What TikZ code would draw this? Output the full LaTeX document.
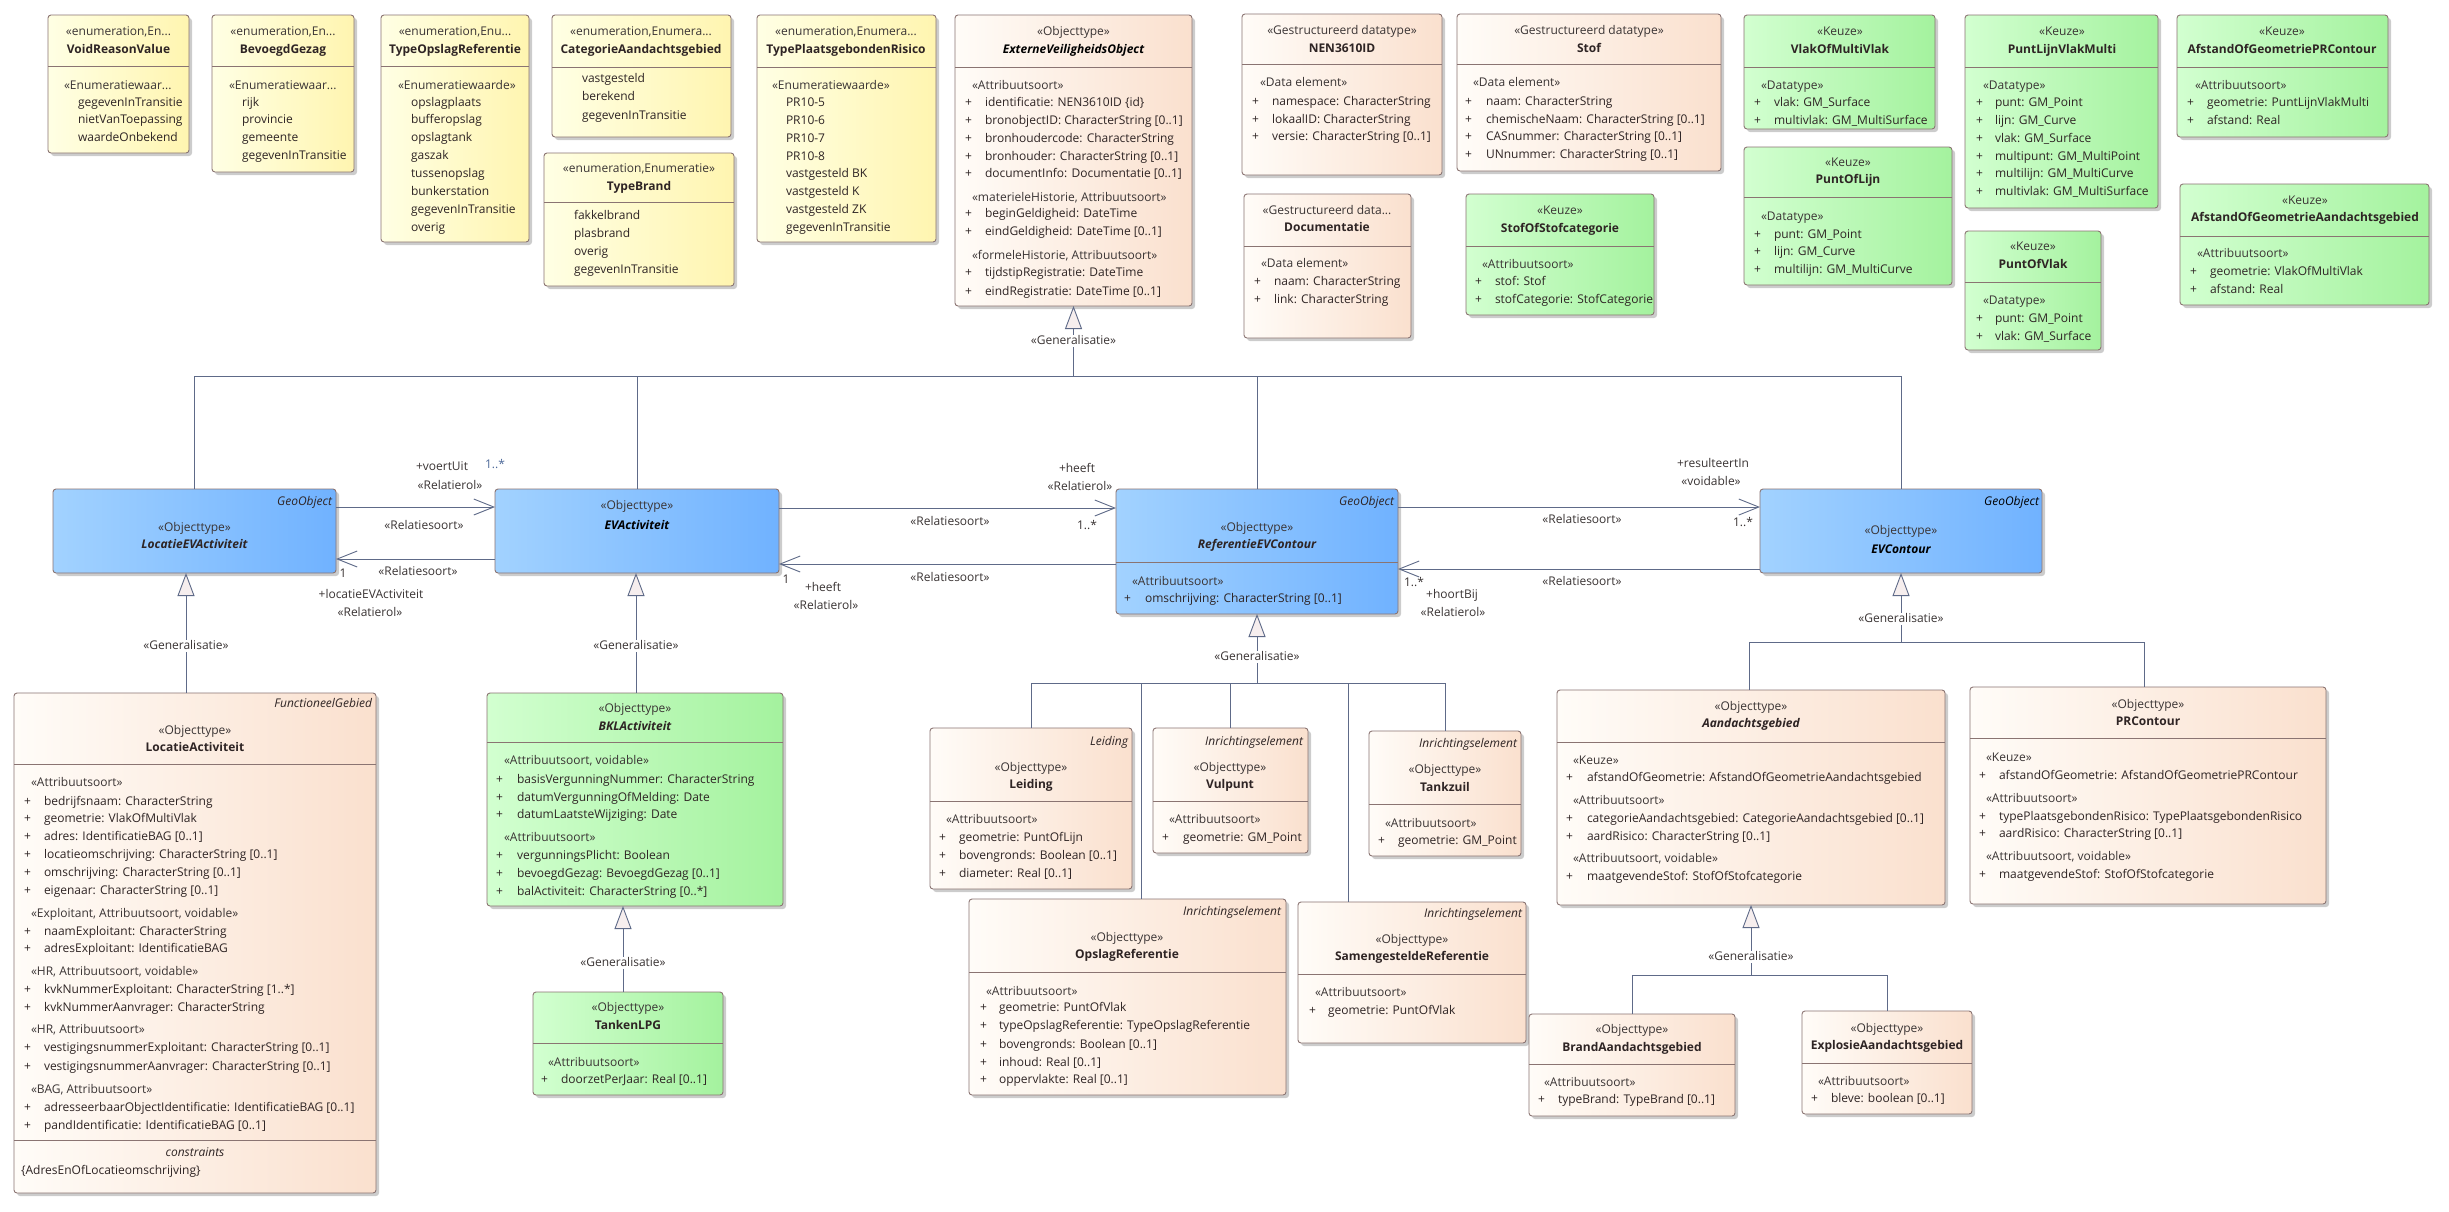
\documentclass[tikz,border=0pt]{standalone}
\usepackage{fontspec}
\setmainfont{Open Sans}
\usetikzlibrary{arrows.meta,shadows,fit}
\definecolor{enL}{HTML}{FFFFE4}
\definecolor{enR}{HTML}{FFF5B0}
\definecolor{obL}{HTML}{FFFCF8}
\definecolor{obR}{HTML}{FAE0CE}
\definecolor{grL}{HTML}{D2FFD0}
\definecolor{grR}{HTML}{A4F29E}
\definecolor{blL}{HTML}{A2D2FF}
\definecolor{blR}{HTML}{70B2FF}
\definecolor{bord}{HTML}{8A7472}
\definecolor{wirec}{HTML}{5E6A88}
\definecolor{txtc}{HTML}{2E2424}
\definecolor{stc}{HTML}{3A3434}
\definecolor{numc}{HTML}{4E6A9A}
\definecolor{genf}{HTML}{F6EEEE}
\newcommand\fs{\fontsize{12}{14}\selectfont}
\newcounter{tn}
\newcommand\Tx[4][lt]{\stepcounter{tn}\node[#1] (t\arabic{tn}) at (#2,#3) {#4};}
\newcommand\Ax[4]{\Tx{#1}{#3}{+}\Tx{#2}{#3}{#4}}
\newcommand\Sx[3]{\Tx[lt,text=stc]{#1}{#2}{#3}}
\newcommand\ubox[7]{\node[box,#7,fit={(#2,#3)(#4,#5)}] (#1) {};\ifx&#6&\else\draw[boxline] (#2,#6) -- (#4,#6);\fi}
\tikzset{
 box/.style={draw=bord, line width=0.9pt, rounded corners=3pt, inner sep=0pt, outer sep=0pt,
   drop shadow={opacity=0.2, shadow xshift=3pt, shadow yshift=-3pt, fill=black}},
 enumf/.style={left color=enL, right color=enR},
 objf/.style={left color=obL, right color=obR},
 grnf/.style={left color=grL, right color=grR},
 bluef/.style={left color=blL, right color=blR},
 boxline/.style={draw=bord, line width=0.9pt},
 txt/.style={inner sep=0pt, outer sep=0pt, text height=9pt, text depth=2.5pt, font=\fs, text=txtc},
 lt/.style={txt, anchor=west},
 ct/.style={txt, anchor=center},
 rt/.style={txt, anchor=east},
 st/.style={ct, text=stc},
 nm/.style={ct, font=\fs\bfseries},
 nmi/.style={ct, font=\fs\bfseries\itshape},
 geo/.style={rt, font=\fs\itshape},
 wire/.style={draw=wirec, line width=0.9pt},
 gen/.style={wire, -{Triangle[length=23pt,width=17pt,fill=genf]}},
 assoc/.style={wire, -{Straight Barb[length=20pt,width=16pt]}},
 glab/.style={ct, fill=white, inner xsep=1.5pt, text=stc},
 alab/.style={ct, text=stc},
}
\begin{document}
\begin{tikzpicture}[x=1pt,y=-1pt]
\useasboundingbox (0,0) rectangle (2449,1211);
\fill[white] (0,0) rectangle (2449,1211);
% ---------- enumerations ----------
\ubox{vrv}{48}{15}{189}{153}{66}{enumf}
\Tx[st]{118.5}{32}{«enumeration,En...}
\Tx[nm]{118.5}{50}{VoidReasonValue}
\Sx{64}{86}{«Enumeratiewaar...}
\Tx{78}{103}{gegevenInTransitie}
\Tx{78}{120}{nietVanToepassing}
\Tx{78}{138}{waardeOnbekend}

\ubox{bg}{212}{15}{354}{172}{66}{enumf}
\Tx[st]{283}{32}{«enumeration,En...}
\Tx[nm]{283}{50}{BevoegdGezag}
\Sx{229}{86}{«Enumeratiewaar...}
\Tx{242}{103}{rijk}
\Tx{242}{120}{provincie}
\Tx{242}{138}{gemeente}
\Tx{242}{156}{gegevenInTransitie}

\ubox{tor}{381}{15}{529}{242}{66}{enumf}
\Tx[st]{455}{32}{«enumeration,Enu...}
\Tx[nm]{455}{50}{TypeOpslagReferentie}
\Sx{398}{86}{«Enumeratiewaarde»}
\Tx{411}{103}{opslagplaats}
\Tx{411}{120}{bufferopslag}
\Tx{411}{138}{opslagtank}
\Tx{411}{156}{gaszak}
\Tx{411}{174}{tussenopslag}
\Tx{411}{192}{bunkerstation}
\Tx{411}{210}{gegevenInTransitie}
\Tx{411}{228}{overig}

\ubox{cag}{552}{15}{731}{137}{67}{enumf}
\Tx[st]{641}{32}{«enumeration,Enumera...}
\Tx[nm]{641}{50}{CategorieAandachtsgebied}
\Tx{582}{79}{vastgesteld}
\Tx{582}{97}{berekend}
\Tx{582}{116}{gegevenInTransitie}

\ubox{tb}{544}{153}{734}{286}{202}{enumf}
\Tx[st]{639}{169}{«enumeration,Enumeratie»}
\Tx[nm]{639}{187}{TypeBrand}
\Tx{574}{216}{fakkelbrand}
\Tx{574}{234}{plasbrand}
\Tx{574}{252}{overig}
\Tx{574}{270}{gegevenInTransitie}

\ubox{tpr}{757}{15}{936}{242}{67}{enumf}
\Tx[st]{846}{32}{«enumeration,Enumera...}
\Tx[nm]{846}{50}{TypePlaatsgebondenRisico}
\Sx{772}{86}{«Enumeratiewaarde»}
\Tx{786}{103}{PR10-5}
\Tx{786}{121}{PR10-6}
\Tx{786}{139}{PR10-7}
\Tx{786}{157}{PR10-8}
\Tx{786}{174}{vastgesteld BK}
\Tx{786}{192}{vastgesteld K}
\Tx{786}{210}{vastgesteld ZK}
\Tx{786}{228}{gegevenInTransitie}

% ---------- ExterneVeiligheidsObject ----------
\ubox{evo}{955}{15}{1192}{306}{67}{objf}
\Tx[st]{1073.5}{32}{«Objecttype»}
\Tx[nmi,text=black]{1073.5}{50}{ExterneVeiligheidsObject}
\Sx{972}{86}{«Attribuutsoort»}
\Ax{965}{985}{103}{identificatie: NEN3610ID \{id\}}
\Ax{965}{985}{121}{bronobjectID: CharacterString [0..1]}
\Ax{965}{985}{139}{bronhoudercode: CharacterString}
\Ax{965}{985}{157}{bronhouder: CharacterString [0..1]}
\Ax{965}{985}{174}{documentInfo: Documentatie [0..1]}
\Sx{972}{198}{«materieleHistorie, Attribuutsoort»}
\Ax{965}{985}{214}{beginGeldigheid: DateTime}
\Ax{965}{985}{232}{eindGeldigheid: DateTime [0..1]}
\Sx{972}{256}{«formeleHistorie, Attribuutsoort»}
\Ax{965}{985}{273}{tijdstipRegistratie: DateTime}
\Ax{965}{985}{292}{eindRegistratie: DateTime [0..1]}

% ---------- datatypes ----------
\ubox{nen}{1242}{14}{1442}{175}{64}{objf}
\Tx[st]{1342}{31}{«Gestructureerd datatype»}
\Tx[nm]{1342}{49}{NEN3610ID}
\Sx{1260}{83}{«Data element»}
\Ax{1252}{1272}{102}{namespace: CharacterString}
\Ax{1252}{1272}{120}{lokaalID: CharacterString}
\Ax{1252}{1272}{137}{versie: CharacterString [0..1]}

\ubox{doc}{1244}{194}{1411}{338}{246}{objf}
\Tx[st]{1327}{211}{«Gestructureerd data...}
\Tx[nm]{1327}{228}{Documentatie}
\Sx{1261}{264}{«Data element»}
\Ax{1254}{1274}{282}{naam: CharacterString}
\Ax{1254}{1274}{300}{link: CharacterString}

\ubox{stof}{1457}{14}{1721}{171}{64}{objf}
\Tx[st]{1589}{31}{«Gestructureerd datatype»}
\Tx[nm]{1589}{49}{Stof}
\Sx{1473}{83}{«Data element»}
\Ax{1465}{1486}{102}{naam: CharacterString}
\Ax{1465}{1486}{120}{chemischeNaam: CharacterString [0..1]}
\Ax{1465}{1486}{137}{CASnummer: CharacterString [0..1]}
\Ax{1465}{1486}{155}{UNnummer: CharacterString [0..1]}

\ubox{sos}{1466}{194}{1654}{315}{246}{grnf}
\Tx[st]{1560}{211}{«Keuze»}
\Tx[nm]{1560}{229}{StofOfStofcategorie}
\Sx{1482}{265}{«Attribuutsoort»}
\Ax{1475}{1495}{282}{stof: Stof}
\Ax{1475}{1495}{300}{stofCategorie: StofCategorie}

\ubox{vmv}{1744}{15}{1935}{129}{67}{grnf}
\Tx[st]{1840}{32}{«Keuze»}
\Tx[nm]{1840}{50}{VlakOfMultiVlak}
\Sx{1761}{86}{«Datatype»}
\Ax{1754}{1774}{103}{vlak: GM\_Surface}
\Ax{1754}{1774}{121}{multivlak: GM\_MultiSurface}

\ubox{pol}{1744}{147}{1952}{285}{197}{grnf}
\Tx[st]{1848}{163}{«Keuze»}
\Tx[nm]{1848}{180}{PuntOfLijn}
\Sx{1761}{217}{«Datatype»}
\Ax{1754}{1774}{235}{punt: GM\_Point}
\Ax{1754}{1774}{252}{lijn: GM\_Curve}
\Ax{1754}{1774}{270}{multilijn: GM\_MultiCurve}

\ubox{plvm}{1965}{15}{2158}{208}{67}{grnf}
\Tx[st]{2062}{32}{«Keuze»}
\Tx[nm]{2062}{50}{PuntLijnVlakMulti}
\Sx{1983}{86}{«Datatype»}
\Ax{1976}{1995}{103}{punt: GM\_Point}
\Ax{1976}{1995}{121}{lijn: GM\_Curve}
\Ax{1976}{1995}{139}{vlak: GM\_Surface}
\Ax{1976}{1995}{157}{multipunt: GM\_MultiPoint}
\Ax{1976}{1995}{174}{multilijn: GM\_MultiCurve}
\Ax{1976}{1995}{192}{multivlak: GM\_MultiSurface}

\ubox{pov}{1965}{231}{2101}{350}{282}{grnf}
\Tx[st]{2033}{247}{«Keuze»}
\Tx[nm]{2033}{265}{PuntOfVlak}
\Sx{1983}{301}{«Datatype»}
\Ax{1976}{1995}{319}{punt: GM\_Point}
\Ax{1976}{1995}{337}{vlak: GM\_Surface}

\ubox{agpr}{2177}{15}{2388}{137}{67}{grnf}
\Tx[st]{2282}{32}{«Keuze»}
\Tx[nm]{2282}{50}{AfstandOfGeometriePRContour}
\Sx{2195}{86}{«Attribuutsoort»}
\Ax{2187}{2207}{103}{geometrie: PuntLijnVlakMulti}
\Ax{2187}{2207}{121}{afstand: Real}

\ubox{agag}{2180}{184}{2429}{305}{236}{grnf}
\Tx[st]{2305}{201}{«Keuze»}
\Tx[nm]{2305}{218}{AfstandOfGeometrieAandachtsgebied}
\Sx{2197}{254}{«Attribuutsoort»}
\Ax{2190}{2210}{272}{geometrie: VlakOfMultiVlak}
\Ax{2190}{2210}{290}{afstand: Real}

% ---------- blue row ----------
\ubox{lev}{53}{489}{336}{573}{}{bluef}
\Tx[geo]{332}{502}{GeoObject}
\Tx[st]{194.5}{528}{«Objecttype»}
\Tx[nmi]{194.5}{545}{LocatieEVActiviteit}

\ubox{eva}{495}{489}{779}{573}{}{bluef}
\Tx[st]{637}{506}{«Objecttype»}
\Tx[nmi,text=black]{637}{526}{EVActiviteit}

\ubox{ref}{1116}{489}{1398}{614}{562}{bluef}
\Tx[geo]{1394}{502}{GeoObject}
\Tx[st]{1257}{528}{«Objecttype»}
\Tx[nmi]{1257}{545}{ReferentieEVContour}
\Sx{1132}{582}{«Attribuutsoort»}
\Ax{1124}{1145}{599}{omschrijving: CharacterString [0..1]}

\ubox{evc}{1760}{489}{2042}{573}{}{bluef}
\Tx[geo,text=black]{2039}{502}{GeoObject}
\Tx[st]{1901}{531}{«Objecttype»}
\Tx[nmi,text=black]{1901}{550}{EVContour}

% ---------- LocatieActiviteit ----------
\ubox{la}{14}{693}{376}{1193}{764}{objf}
\draw[boxline] (14,1140) -- (376,1140);
\Tx[geo]{372}{704}{FunctioneelGebied}
\Tx[st]{195}{731}{«Objecttype»}
\Tx[nm]{195}{748}{LocatieActiviteit}
\Sx{31}{783}{«Attribuutsoort»}
\Ax{24}{44}{802}{bedrijfsnaam: CharacterString}
\Ax{24}{44}{819}{geometrie: VlakOfMultiVlak}
\Ax{24}{44}{837}{adres: IdentificatieBAG [0..1]}
\Ax{24}{44}{855}{locatieomschrijving: CharacterString [0..1]}
\Ax{24}{44}{873}{omschrijving: CharacterString [0..1]}
\Ax{24}{44}{891}{eigenaar: CharacterString [0..1]}
\Sx{31}{914}{«Exploitant, Attribuutsoort, voidable»}
\Ax{24}{44}{932}{naamExploitant: CharacterString}
\Ax{24}{44}{949}{adresExploitant: IdentificatieBAG}
\Sx{31}{972}{«HR, Attribuutsoort, voidable»}
\Ax{24}{44}{990}{kvkNummerExploitant: CharacterString [1..*]}
\Ax{24}{44}{1008}{kvkNummerAanvrager: CharacterString}
\Sx{31}{1030}{«HR, Attribuutsoort»}
\Ax{24}{44}{1048}{vestigingsnummerExploitant: CharacterString [0..1]}
\Ax{24}{44}{1067}{vestigingsnummerAanvrager: CharacterString [0..1]}
\Sx{31}{1090}{«BAG, Attribuutsoort»}
\Ax{24}{44}{1108}{adresseerbaarObjectIdentificatie: IdentificatieBAG [0..1]}
\Ax{24}{44}{1126}{pandIdentificatie: IdentificatieBAG [0..1]}
\Tx[ct,font=\fs\itshape]{195}{1153}{constraints}
\Tx{21}{1171}{\{AdresEnOfLocatieomschrijving\}}

% ---------- BKL / TankenLPG ----------
\ubox{bkl}{487}{693}{783}{906}{742}{grnf}
\Tx[st]{635}{709}{«Objecttype»}
\Tx[nmi]{635}{727}{BKLActiviteit}
\Sx{504}{761}{«Attribuutsoort, voidable»}
\Ax{496}{517}{780}{basisVergunningNummer: CharacterString}
\Ax{496}{517}{798}{datumVergunningOfMelding: Date}
\Ax{496}{517}{815}{datumLaatsteWijziging: Date}
\Sx{504}{838}{«Attribuutsoort»}
\Ax{496}{517}{856}{vergunningsPlicht: Boolean}
\Ax{496}{517}{874}{bevoegdGezag: BevoegdGezag [0..1]}
\Ax{496}{517}{892}{balActiviteit: CharacterString [0..*]}

\ubox{tlpg}{533}{992}{723}{1095}{1043}{grnf}
\Tx[st]{628}{1008}{«Objecttype»}
\Tx[nm]{628}{1026}{TankenLPG}
\Sx{548}{1063}{«Attribuutsoort»}
\Ax{541}{561}{1080}{doorzetPerJaar: Real [0..1]}

% ---------- ReferentieEVContour subclasses ----------
\ubox{lei}{930}{728}{1132}{889}{801}{objf}
\Tx[geo]{1128}{742}{Leiding}
\Tx[st]{1031}{768}{«Objecttype»}
\Tx[nm]{1031}{785}{Leiding}
\Sx{946}{820}{«Attribuutsoort»}
\Ax{939}{959}{838}{geometrie: PuntOfLijn}
\Ax{939}{959}{856}{bovengronds: Boolean [0..1]}
\Ax{939}{959}{874}{diameter: Real [0..1]}

\ubox{vul}{1153}{728}{1308}{853}{801}{objf}
\Tx[geo]{1303}{742}{Inrichtingselement}
\Tx[st]{1230}{768}{«Objecttype»}
\Tx[nm]{1230}{785}{Vulpunt}
\Sx{1169}{820}{«Attribuutsoort»}
\Ax{1162}{1183}{838}{geometrie: GM\_Point}

\ubox{tz}{1369}{731}{1521}{856}{804}{objf}
\Tx[geo]{1517}{744}{Inrichtingselement}
\Tx[st]{1445}{770}{«Objecttype»}
\Tx[nm]{1445}{788}{Tankzuil}
\Sx{1385}{824}{«Attribuutsoort»}
\Ax{1378}{1398}{841}{geometrie: GM\_Point}

\ubox{ops}{969}{899}{1286}{1095}{972}{objf}
\Tx[geo]{1281}{912}{Inrichtingselement}
\Tx[st]{1127}{938}{«Objecttype»}
\Tx[nm]{1127}{955}{OpslagReferentie}
\Sx{986}{992}{«Attribuutsoort»}
\Ax{980}{999}{1008}{geometrie: PuntOfVlak}
\Ax{980}{999}{1026}{typeOpslagReferentie: TypeOpslagReferentie}
\Ax{980}{999}{1045}{bovengronds: Boolean [0..1]}
\Ax{980}{999}{1063}{inhoud: Real [0..1]}
\Ax{980}{999}{1080}{oppervlakte: Real [0..1]}

\ubox{sam}{1298}{902}{1526}{1043}{974}{objf}
\Tx[geo]{1522}{914}{Inrichtingselement}
\Tx[st]{1412}{940}{«Objecttype»}
\Tx[nm]{1412}{957}{SamengesteldeReferentie}
\Sx{1315}{993}{«Attribuutsoort»}
\Ax{1309}{1328}{1011}{geometrie: PuntOfVlak}

% ---------- EVContour subclasses ----------
\ubox{ag}{1557}{690}{1945}{905}{742}{objf}
\Tx[st]{1751}{707}{«Objecttype»}
\Tx[nmi]{1751}{724}{Aandachtsgebied}
\Sx{1573}{761}{«Keuze»}
\Ax{1566}{1587}{778}{afstandOfGeometrie: AfstandOfGeometrieAandachtsgebied}
\Sx{1573}{801}{«Attribuutsoort»}
\Ax{1566}{1587}{819}{categorieAandachtsgebied: CategorieAandachtsgebied [0..1]}
\Ax{1566}{1587}{837}{aardRisico: CharacterString [0..1]}
\Sx{1573}{859}{«Attribuutsoort, voidable»}
\Ax{1566}{1587}{877}{maatgevendeStof: StofOfStofcategorie}

\ubox{prc}{1970}{687}{2326}{904}{738}{objf}
\Tx[st]{2148}{705}{«Objecttype»}
\Tx[nm]{2148}{722}{PRContour}
\Sx{1986}{758}{«Keuze»}
\Ax{1979}{1999}{776}{afstandOfGeometrie: AfstandOfGeometriePRContour}
\Sx{1986}{799}{«Attribuutsoort»}
\Ax{1979}{1999}{817}{typePlaatsgebondenRisico: TypePlaatsgebondenRisico}
\Ax{1979}{1999}{834}{aardRisico: CharacterString [0..1]}
\Sx{1986}{857}{«Attribuutsoort, voidable»}
\Ax{1979}{1999}{875}{maatgevendeStof: StofOfStofcategorie}

\ubox{brand}{1529}{1014}{1735}{1116}{1064}{objf}
\Tx[st]{1632}{1030}{«Objecttype»}
\Tx[nm]{1632}{1048}{BrandAandachtsgebied}
\Sx{1544}{1083}{«Attribuutsoort»}
\Ax{1538}{1558}{1100}{typeBrand: TypeBrand [0..1]}

\ubox{expl}{1802}{1011}{1972}{1114}{1063}{objf}
\Tx[st]{1887}{1029}{«Objecttype»}
\Tx[nm]{1887}{1046}{ExplosieAandachtsgebied}
\Sx{1818}{1082}{«Attribuutsoort»}
\Ax{1811}{1831}{1099}{bleve: boolean [0..1]}

% ---------- generalisations ----------
\coordinate (busT) at (1073.5,376);
\draw[wire] (lev.north) |- (busT -| evc.north) -- (evc.north);
\draw[wire] (eva.north) -- (eva.north |- busT);
\draw[wire] (ref.north) -- (ref.north |- busT);
\draw[gen] (busT) -- (evo.south);
\Tx[glab]{1073.5}{341}{«Generalisatie»}

\draw[gen] (la.north -| 186,0) -- (lev.south -| 186,0);
\Tx[glab]{186}{646}{«Generalisatie»}
\draw[gen] (bkl.north -| 636,0) -- (eva.south -| 636,0);
\Tx[glab]{636}{646}{«Generalisatie»}
\draw[gen] (tlpg.north -| 623,0) -- (bkl.south -| 623,0);
\Tx[glab]{623}{963}{«Generalisatie»}

\coordinate (busR) at (1257,683);
\draw[wire] (lei.north) |- (busR -| tz.north) -- (tz.north);
\draw[wire] (ops.north -| 1141,0) -- (busR -| 1141,0);
\draw[wire] (vul.north) -- (vul.north |- busR);
\draw[wire] (sam.north -| 1348,0) -- (busR -| 1348,0);
\draw[gen] (busR) -- (ref.south);
\Tx[glab]{1257}{657}{«Generalisatie»}

\coordinate (busE) at (1901,642);
\draw[wire] (ag.north -| 1749,0) |- (busE -| 2144,0) -- (prc.north -| 2144,0);
\draw[gen] (busE) -- (evc.south);
\Tx[glab]{1901}{619}{«Generalisatie»}

\coordinate (busA) at (1751,975);
\draw[wire] (brand.north) |- (busA -| expl.north) -- (expl.north);
\draw[gen] (busA) -- (ag.south);
\Tx[glab]{1751}{957}{«Generalisatie»}

% ---------- associations ----------
\draw[assoc] (lev.east |- 0,507) -- (eva.west |- 0,507);
\draw[assoc] (eva.west |- 0,559) -- (lev.east |- 0,559);
\draw[assoc] (eva.east |- 0,508) -- (ref.west |- 0,508);
\draw[assoc] (ref.west |- 0,564) -- (eva.east |- 0,564);
\draw[assoc] (ref.east |- 0,507) -- (evc.west |- 0,507);
\draw[assoc] (evc.west |- 0,569) -- (ref.east |- 0,569);

\Tx[alab]{442}{467}{+voertUit}
\Tx[alab,text=numc]{495}{465}{1..*}
\Tx[alab]{450}{486}{«Relatierol»}
\Tx[alab]{424}{526}{«Relatiesoort»}
\Tx[alab]{343}{574}{1}
\Tx[alab]{418}{572}{«Relatiesoort»}
\Tx[alab]{371}{595}{+locatieEVActiviteit}
\Tx[alab]{370}{613}{«Relatierol»}

\Tx[alab]{1077}{469}{+heeft}
\Tx[alab]{1080}{487}{«Relatierol»}
\Tx[alab]{950}{522}{«Relatiesoort»}
\Tx[alab]{1087}{526}{1..*}
\Tx[alab]{786}{580}{1}
\Tx[alab]{823}{588}{+heeft}
\Tx[alab]{826}{606}{«Relatierol»}
\Tx[alab]{950}{578}{«Relatiesoort»}

\Tx[alab]{1582}{520}{«Relatiesoort»}
\Tx[alab]{1582}{582}{«Relatiesoort»}
\Tx[alab]{1414}{583}{1..*}
\Tx[alab]{1452}{595}{+hoortBij}
\Tx[alab]{1453}{613}{«Relatierol»}
\Tx[alab]{1713}{464}{+resulteertIn}
\Tx[alab]{1711}{482}{«voidable»}
\Tx[alab]{1743}{523}{1..*}
\end{tikzpicture}
\end{document}
